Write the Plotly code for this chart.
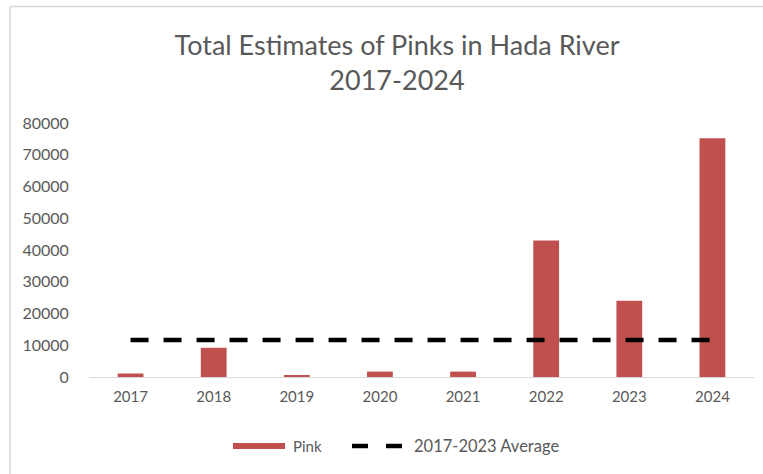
import plotly.graph_objects as go

# Annual pink salmon estimates, Hada River
years = ["2017", "2018", "2019", "2020", "2021", "2022", "2023", "2024"]
pink = [1100, 9200, 600, 1700, 1700, 43000, 24000, 75200]
average_value = sum(pink[:7]) / len(pink[:7])
avg_line = [average_value] * len(years)
legend_labels = ["Pink", "2017-2023 Average"]

W, H = 763, 474
L, R, T, B = 89, 9, 123, 97
plot_w = W - L - R
plot_h = H - T - B

def px_x(px):
    return (px - L) / plot_w

def px_y(py):
    return (H - B - py) / plot_h

text_grey = "#595959"
bar_red = "#c0504d"
font_family = "Lato, Calibri, Carlito, sans-serif"

fig = go.Figure()
fig.add_trace(go.Bar(
    x=years, y=pink, name=legend_labels[0], showlegend=False,
    marker=dict(color=bar_red, line=dict(width=0)),
))
fig.add_trace(go.Scatter(
    x=years, y=avg_line, name=legend_labels[1], mode="lines", showlegend=False,
    line=dict(color="black", width=4.5, dash="18px,15px"),
))

# Legend drawn in paper space: wide swatch for bars, two dashes for the line
legend_y = px_y(446)
shapes = [
    dict(type="line", xref="paper", yref="paper",
         x0=px_x(10), x1=px_x(763), y0=px_y(6.5), y1=px_y(6.5),
         line=dict(color="#d9d9d9", width=1.5)),
    dict(type="line", xref="paper", yref="paper",
         x0=px_x(10), x1=px_x(10), y0=px_y(6.5), y1=px_y(474),
         line=dict(color="#d9d9d9", width=1.5)),
    dict(type="rect", xref="paper", yref="paper",
         x0=px_x(233), x1=px_x(285), y0=px_y(449), y1=px_y(443),
         fillcolor=bar_red, line=dict(width=0)),
    dict(type="line", xref="paper", yref="paper",
         x0=px_x(352), x1=px_x(368), y0=legend_y, y1=legend_y,
         line=dict(color="black", width=4.5)),
    dict(type="line", xref="paper", yref="paper",
         x0=px_x(386), x1=px_x(402), y0=legend_y, y1=legend_y,
         line=dict(color="black", width=4.5)),
]
annotations = [
    dict(text=legend_labels[0], xref="paper", yref="paper",
         x=px_x(291), y=legend_y, xanchor="left", yanchor="middle",
         showarrow=False, font=dict(size=15, color=text_grey)),
    dict(text=legend_labels[1], xref="paper", yref="paper",
         x=px_x(412), y=legend_y, xanchor="left", yanchor="middle",
         showarrow=False, font=dict(size=16.5, color=text_grey)),
]

fig.update_layout(
    width=W, height=H,
    margin=dict(l=L, r=R, t=T, b=B),
    paper_bgcolor="white", plot_bgcolor="white",
    bargap=0.69,
    font=dict(family=font_family, color=text_grey, size=15),
    title=dict(
        text="Total Estimates of Pinks in Hada River<br>2017-2024",
        x=px_x(397), xref="paper", xanchor="center",
        y=1 - 55 / H, yanchor="middle",
        font=dict(size=27, color=text_grey, family=font_family),
    ),
    showlegend=False,
    xaxis=dict(
        showgrid=False, showline=True, linecolor="#d9d9d9", linewidth=1,
        ticks="outside", ticklen=6, tickcolor="white",
        tickfont=dict(size=15, color=text_grey),
        range=[-0.5, 7.5],
    ),
    yaxis=dict(
        range=[0, 80000], dtick=10000, showgrid=False, zeroline=False,
        showline=False, ticks="outside", ticklen=16, tickcolor="white",
        tickformat="d",
        tickfont=dict(size=16, color=text_grey),
    ),
    shapes=shapes,
    annotations=annotations,
)

fig.write_html("out.html")
